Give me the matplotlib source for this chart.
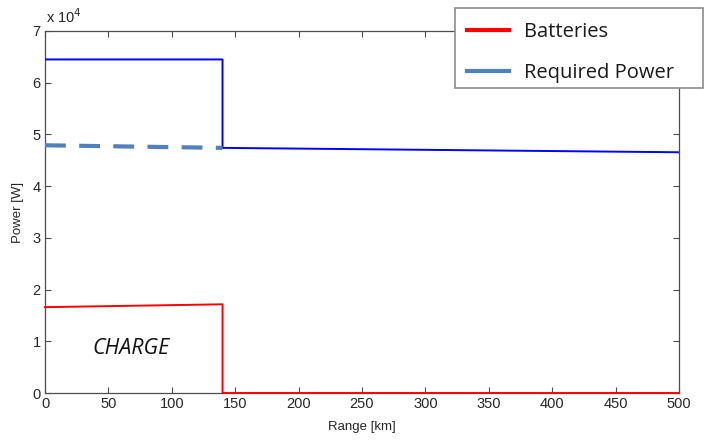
import matplotlib
matplotlib.use("Agg")
import matplotlib.pyplot as plt
from matplotlib.lines import Line2D
from matplotlib.patches import Rectangle

# Data
range_total = [0, 140, 140, 500]             # km
power_total = [64500, 64500, 47400, 46550]   # W (solid blue)
range_req = [0, 140]
power_req = [47900, 47400]                   # W (dashed required power)
range_batt = [0, 140, 140, 500]
power_batt = [16600, 17150, 0, 0]            # W (batteries)

xticks = [0, 50, 100, 150, 200, 250, 300, 350, 400, 450, 500]
yticks = [0, 1e4, 2e4, 3e4, 4e4, 5e4, 6e4, 7e4]
ytick_labels = ["0", "1", "2", "3", "4", "5", "6", "7"]
legend_labels = ["Batteries", "Required Power"]

fig = plt.figure(figsize=(7.04, 4.40), dpi=100)
ax = fig.add_axes([45/704, 1-393/440, 634/704, 362/440])

axis_col = "#4d4d4d"
ax.plot(range_total, power_total, color="#0000ff", lw=1.4, zorder=3)
ax.plot(range_req, power_req, color="#4f81bd", lw=3, dashes=(5, 3.2), zorder=4)
ax.plot(range_batt, power_batt, color="#ff0000", lw=1.4, zorder=5, clip_on=False)

ax.set_xlim(0, 500)
ax.set_ylim(0, 7e4)
ax.set_xticks(xticks)
ax.set_xticklabels([str(t) for t in xticks])
ax.set_yticks(yticks)
ax.set_yticklabels(ytick_labels)

font_tick = "Liberation Sans"
for lab in ax.get_xticklabels() + ax.get_yticklabels():
    lab.set_fontfamily(font_tick)
    lab.set_fontsize(10.5)
    lab.set_color("#262626")

ax.tick_params(direction="in", top=True, right=True, length=4, width=0.8,
               color=axis_col, pad=3)
for s in ax.spines.values():
    s.set_color(axis_col)
    s.set_linewidth(0.9)

ax.set_xlabel("Range [km]", fontfamily=font_tick, fontsize=9.5, color="#262626", labelpad=7)
ax.set_ylabel("Power [W]", fontfamily=font_tick, fontsize=9.5, color="#262626", labelpad=6)

fig.text(46/704, 1-17/440, r"x 10$^{4}$", fontfamily=font_tick, fontsize=10.5,
         color="#262626", va="center", ha="left")

ax.text(68, 0.86e4, "CHARGE", fontfamily="Open Sans", style="italic", fontsize=15.5,
        color="#111111", ha="center", va="center")

# Legend box (white, grey border) overlapping the top-right of the axes
box = Rectangle((455/704, 1-88/440), 248/704, 80/440, transform=fig.transFigure,
                facecolor="white", edgecolor="#8c8c8c", lw=1.2, zorder=5)
fig.patches.append(box)

handles = [Line2D([0], [0], color="#ff0000", lw=3),
           Line2D([0], [0], color="#4f81bd", lw=3)]
leg = fig.legend(handles, legend_labels,
                 loc="upper left", bbox_to_anchor=(456/704, 1-11/440),
                 prop={"family": "Open Sans", "size": 14.5},
                 frameon=False,
                 handlelength=2.1, handletextpad=0.75, borderpad=0.55,
                 labelspacing=1.05, borderaxespad=0)
leg.set_zorder(6)
for t in leg.get_texts():
    t.set_color("#1a1a1a")

fig.savefig("out.png", dpi=100)
